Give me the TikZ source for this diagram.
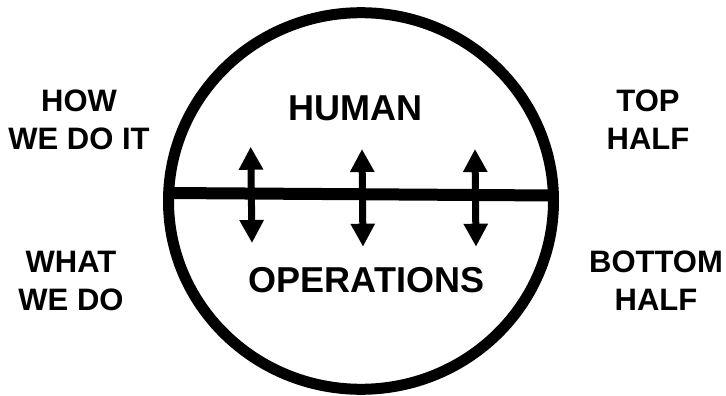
\documentclass[tikz,border=0pt]{standalone}
\usepackage{fontspec}
\setmainfont{Liberation Sans}
\usetikzlibrary{arrows.meta}
\tikzset{
  sidetext/.style={font=\bfseries\fontsize{31}{38}\selectfont, align=center, anchor=base, inner sep=0pt},
  maintext/.style={font=\bfseries\fontsize{36}{42}\selectfont, anchor=base, inner sep=0pt},
  dblarrow/.style={line width=7pt, {Triangle[length=23pt,width=23pt]}-{Triangle[length=23pt,width=23pt]}}
}
\begin{document}
\begin{tikzpicture}[x=1pt,y=-1pt]
\useasboundingbox (0,0) rectangle (726,396);
\fill[white] (0,0) rectangle (726,396);
% circle
\coordinate (cc) at (361,201);
\draw[line width=11pt] (cc) ellipse [x radius=192.5, y radius=188.3];
% dividing bar
\coordinate (bl) at (168,193);
\coordinate (br) at (553,195.5);
\draw[line width=12pt] (bl) -- (br);
% arrows
\coordinate (a1t) at (250.7,146.7);
\coordinate (a1b) at (252,243);
\coordinate (a2t) at (362,149);
\coordinate (a2b) at (363,246.7);
\coordinate (a3t) at (475,149);
\coordinate (a3b) at (476,246.7);
\draw[dblarrow] (a1t) -- (a1b);
\draw[dblarrow] (a2t) -- (a2b);
\draw[dblarrow] (a3t) -- (a3b);
% texts
\node[maintext] (human) at (355.5,120.5) {HUMAN};
\node[maintext] (ops) at (366.5,292) {OPERATIONS};
\node[sidetext] (how) at (79,149.3) {HOW\\WE DO IT};
\node[sidetext] (what) at (71,310.3) {WHAT\\WE DO};
\node[sidetext] (top) at (648,149.5) {TOP\\HALF};
\node[sidetext] (bottom) at (656,310.3) {BOTTOM\\HALF};
\end{tikzpicture}
\end{document}
